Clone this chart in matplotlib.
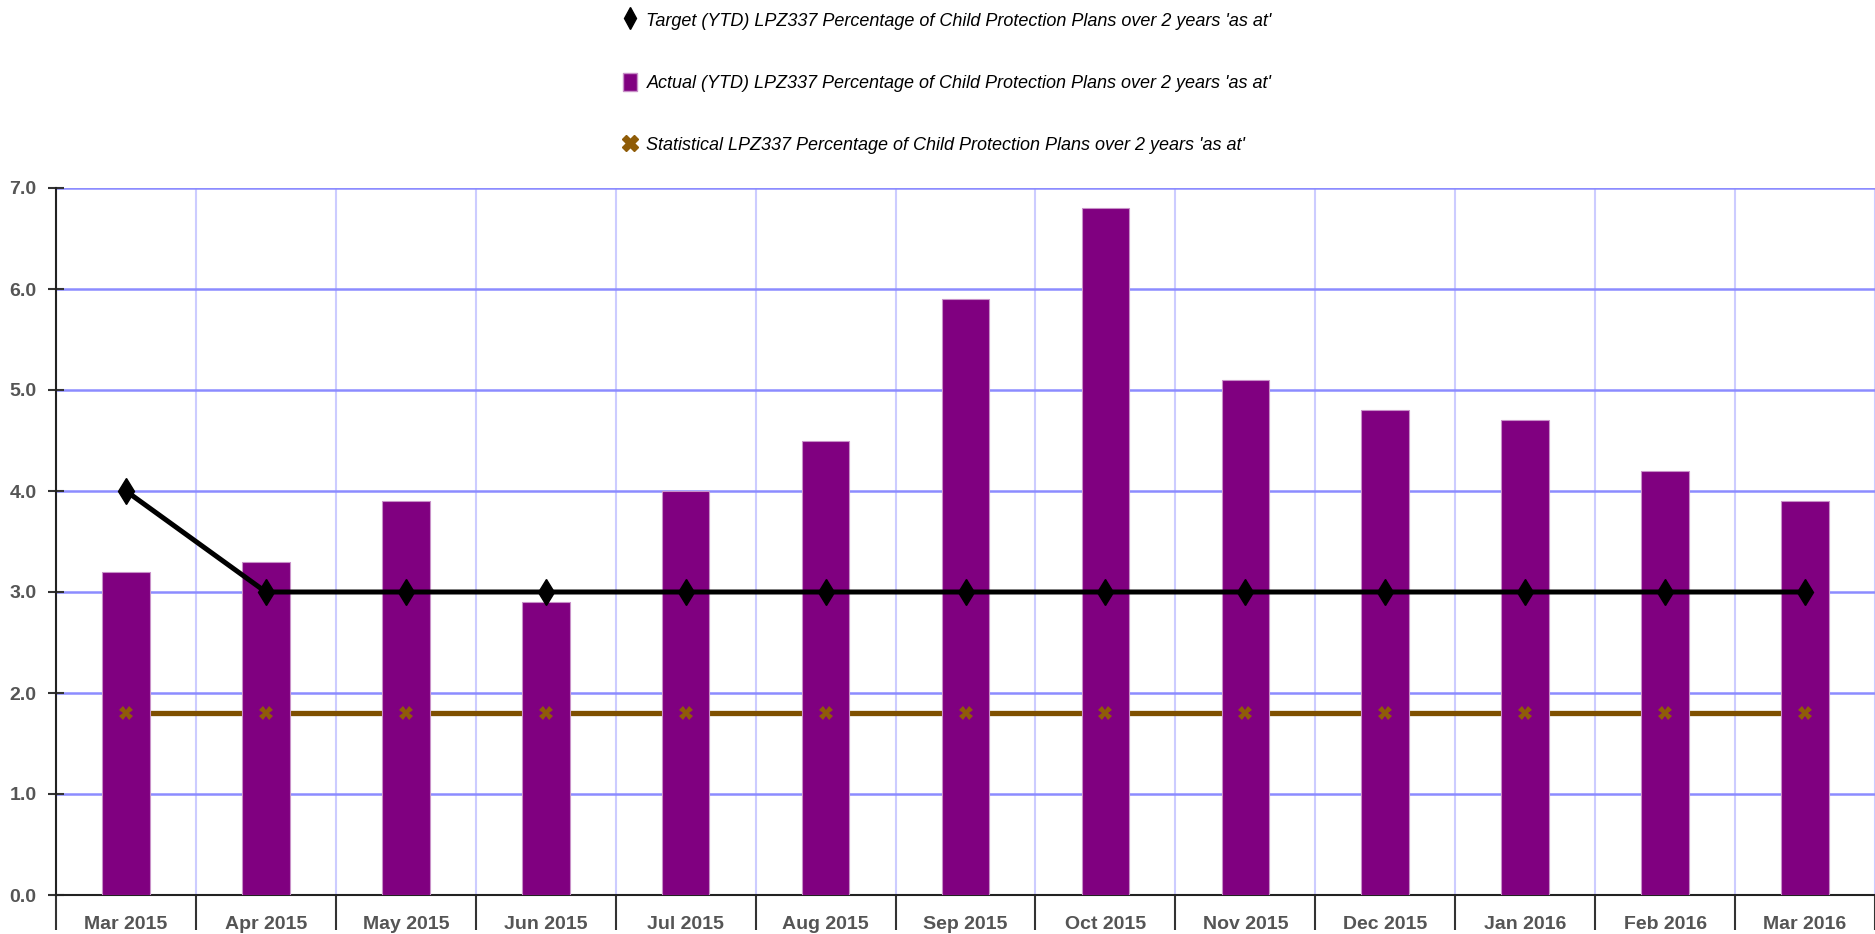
import matplotlib
matplotlib.use("Agg")
import matplotlib.pyplot as plt
from matplotlib.lines import Line2D
from matplotlib.patches import Patch
import numpy as np
from matplotlib import font_manager

months = ["Mar 2015", "Apr 2015", "May 2015", "Jun 2015", "Jul 2015", "Aug 2015",
          "Sep 2015", "Oct 2015", "Nov 2015", "Dec 2015", "Jan 2016", "Feb 2016", "Mar 2016"]
actual = [3.2, 3.3, 3.9, 2.9, 4.0, 4.5, 5.9, 6.8, 5.1, 4.8, 4.7, 4.2, 3.9]
target = [4.0, 3.0, 3.0, 3.0, 3.0, 3.0, 3.0, 3.0, 3.0, 3.0, 3.0, 3.0, 3.0]
statistical = [1.8] * 13
yticks = [0.0, 1.0, 2.0, 3.0, 4.0, 5.0, 6.0, 7.0]

label_target = "Target (YTD) LPZ337 Percentage of Child Protection Plans over 2 years 'as at'"
label_actual = "Actual (YTD) LPZ337 Percentage of Child Protection Plans over 2 years 'as at'"
label_stat = "Statistical LPZ337 Percentage of Child Protection Plans over 2 years 'as at'"

names = {f.name for f in font_manager.fontManager.ttflist}
fam = "Liberation Sans Narrow" if "Liberation Sans Narrow" in names else "Liberation Sans"
narrow = fam == "Liberation Sans Narrow"
plt.rcParams['font.family'] = [fam, 'DejaVu Sans']

fig = plt.figure(figsize=(18.75, 9.34), dpi=100)
ax = fig.add_axes([56/1875, 1 - 895/934, 1 - 56/1875, (895 - 188)/934])

x = np.arange(len(months))
purple = "#800080"
brown = "#7f5000"

ax.bar(x, actual, width=0.34, color=purple, edgecolor="#c890c8", linewidth=0.8, zorder=3)
ax.plot(x, statistical, color=brown, linewidth=3.8, zorder=2, solid_capstyle='butt')
ax.plot(x, statistical, linestyle='none', marker='X', markersize=10, color="#8f5c08",
        markeredgewidth=0, zorder=4)
ax.plot(x, target, color="black", linewidth=3.6, marker='d', markersize=13, zorder=5)

ax.set_xlim(-0.5, len(months) - 0.5)
ax.set_ylim(0, 7.0)
ax.set_yticks(yticks)
ax.set_yticklabels([f"{v:.1f}" for v in yticks])

ax.set_xticks(np.arange(-0.5, len(months), 1.0))
ax.set_xticklabels([])
ax.set_xticks(x, minor=True)
ax.set_xticklabels(months, minor=True)

xls = 16 if narrow else 14
yls = 14 if narrow else 14
ax.tick_params(axis='x', which='major', length=25, width=1.5, color='#333333', direction='out')
ax.tick_params(axis='x', which='minor', length=0, pad=15, labelsize=xls, labelcolor='#555555')
ax.tick_params(axis='y', which='major', length=12, width=1.5, color='#333333', direction='inout',
               pad=8, labelsize=yls, labelcolor='#555555')
for lab in ax.get_xticklabels(minor=True) + ax.get_yticklabels():
    lab.set_fontweight('bold')

ax.grid(axis='y', which='major', color='#8c8cff', linewidth=1.8, zorder=0)
ax.grid(axis='x', which='major', color='#ccccff', linewidth=1.5, zorder=0)
ax.set_axisbelow(True)

for s in ['top', 'right']:
    ax.spines[s].set_visible(False)
ax.spines['left'].set_color('#222222')
ax.spines['left'].set_linewidth(1.5)
ax.spines['bottom'].set_color('#222222')
ax.spines['bottom'].set_linewidth(1.5)

handles = [
    Line2D([], [], color='black', marker='d', markersize=11, linestyle='none'),
    Patch(facecolor=purple, edgecolor="#c890c8"),
    Line2D([], [], color="#8f5c08", marker='X', markersize=11, linestyle='none'),
]
leg = fig.legend(handles, [label_target, label_actual, label_stat], loc='upper left',
                 bbox_to_anchor=(614/1875, 1 - 2/934), frameon=False,
                 prop={'size': 15 if narrow else 13, 'style': 'italic', 'family': [fam, 'DejaVu Sans']},
                 labelspacing=2.4, handlelength=0.8, handleheight=1.1, handletextpad=0.5, borderpad=0)

fig.savefig("out.png", dpi=100)
